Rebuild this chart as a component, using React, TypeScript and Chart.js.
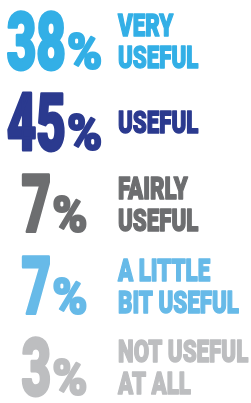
import React, { useEffect, useRef } from "react";
import { Chart, registerables } from "chart.js";

Chart.register(...registerables);

const categories: string[][] = [
  ["VERY", "USEFUL"],
  ["USEFUL"],
  ["FAIRLY", "USEFUL"],
  ["A LITTLE", "BIT USEFUL"],
  ["NOT USEFUL", "AT ALL"],
];
const values: number[] = [38, 45, 7, 7, 3];
const colors: string[] = ["#33AFE6", "#2B3A8F", "#6D6E70", "#67BAE8", "#BDBEC0"];

const FONT = "Roboto, 'DejaVu Sans', sans-serif";

function heavyText(ctx: CanvasRenderingContext2D, text: string, x: number, y: number, sx: number, font: string, stroke: number) {
  ctx.save();
  ctx.translate(x, y);
  ctx.scale(sx, 1);
  ctx.font = font;
  ctx.lineJoin = "round";
  ctx.lineWidth = stroke;
  ctx.fillText(text, 0, 0);
  if (stroke > 0) ctx.strokeText(text, 0, 0);
  ctx.restore();
}

const infographicPlugin = {
  id: "infographic",
  afterDatasetsDraw(chart: any) {
    const ctx: CanvasRenderingContext2D = chart.ctx;
    const meta = chart.getDatasetMeta(0);
    const xScale = chart.scales.x;
    const ds = chart.data.datasets[0];
    const groupCenter = xScale.getPixelForValue(54.5);
    const labelLeft = xScale.getPixelForValue(118);
    meta.data.forEach((el: any, i: number) => {
      const cy = el.y;
      const color = ds.pointBackgroundColor[i];
      const num = String(ds.data[i].x);
      ctx.save();
      ctx.fillStyle = color;
      ctx.strokeStyle = color;
      ctx.textBaseline = "alphabetic";
      ctx.textAlign = "left";
      const numSize = 80;
      const numScale = 0.64;
      const numFont = `900 ${numSize}px ${FONT}`;
      ctx.font = numFont;
      const numW = ctx.measureText(num).width * numScale;
      const pctSize = 50;
      const pctScale = 0.95;
      const pctFont = `900 ${pctSize}px ${FONT}`;
      ctx.font = pctFont;
      const pctW = ctx.measureText("%").width * pctScale;
      const gap = 1;
      const total = numW + gap + pctW;
      const startX = groupCenter - total / 2;
      const baseY = cy + 28;
      heavyText(ctx, num, startX, baseY, numScale, numFont, 3);
      heavyText(ctx, "%", startX + numW + gap, baseY, pctScale, pctFont, 2);
      const lines = categories[i];
      const labSize = 31;
      const labScale = 0.72;
      const lineGap = 32;
      const capH = 22;
      const groupH = capH + lineGap * (lines.length - 1);
      const firstBase = cy - groupH / 2 + capH;
      const labFont = `900 ${labSize}px ${FONT}`;
      lines.forEach((ln, j) => {
        heavyText(ctx, ln, labelLeft, firstBase + j * lineGap, labScale, labFont, 1.5);
      });
      ctx.restore();
    });
  },
};

export default function App() {
  const ref = useRef<HTMLCanvasElement | null>(null);
  useEffect(() => {
    if (!ref.current) return;
    const chart = new Chart(ref.current, {
      type: "scatter",
      data: {
        labels: categories.map((c) => c.join(" ")),
        datasets: [
          {
            data: values.map((v, i) => ({ x: v, y: i })),
            pointRadius: 0,
            pointBackgroundColor: colors,
            showLine: false,
          },
        ],
      },
      options: {
        animation: false,
        responsive: false,
        maintainAspectRatio: false,
        layout: { padding: 0 },
        plugins: { legend: { display: false }, tooltip: { enabled: false } },
        scales: {
          x: { type: "linear", display: false, min: 0, max: 251 },
          y: { type: "linear", display: false, reverse: true, min: -0.5, max: 4.44 },
        },
      },
      plugins: [infographicPlugin],
    });
    return () => chart.destroy();
  }, []);
  return (
    <div style={{ position: "fixed", left: 0, top: 0, width: 251, height: 403, background: "#fff" }}>
      <canvas ref={ref} width={251} height={403} style={{ display: "block" }} />
    </div>
  );
}
